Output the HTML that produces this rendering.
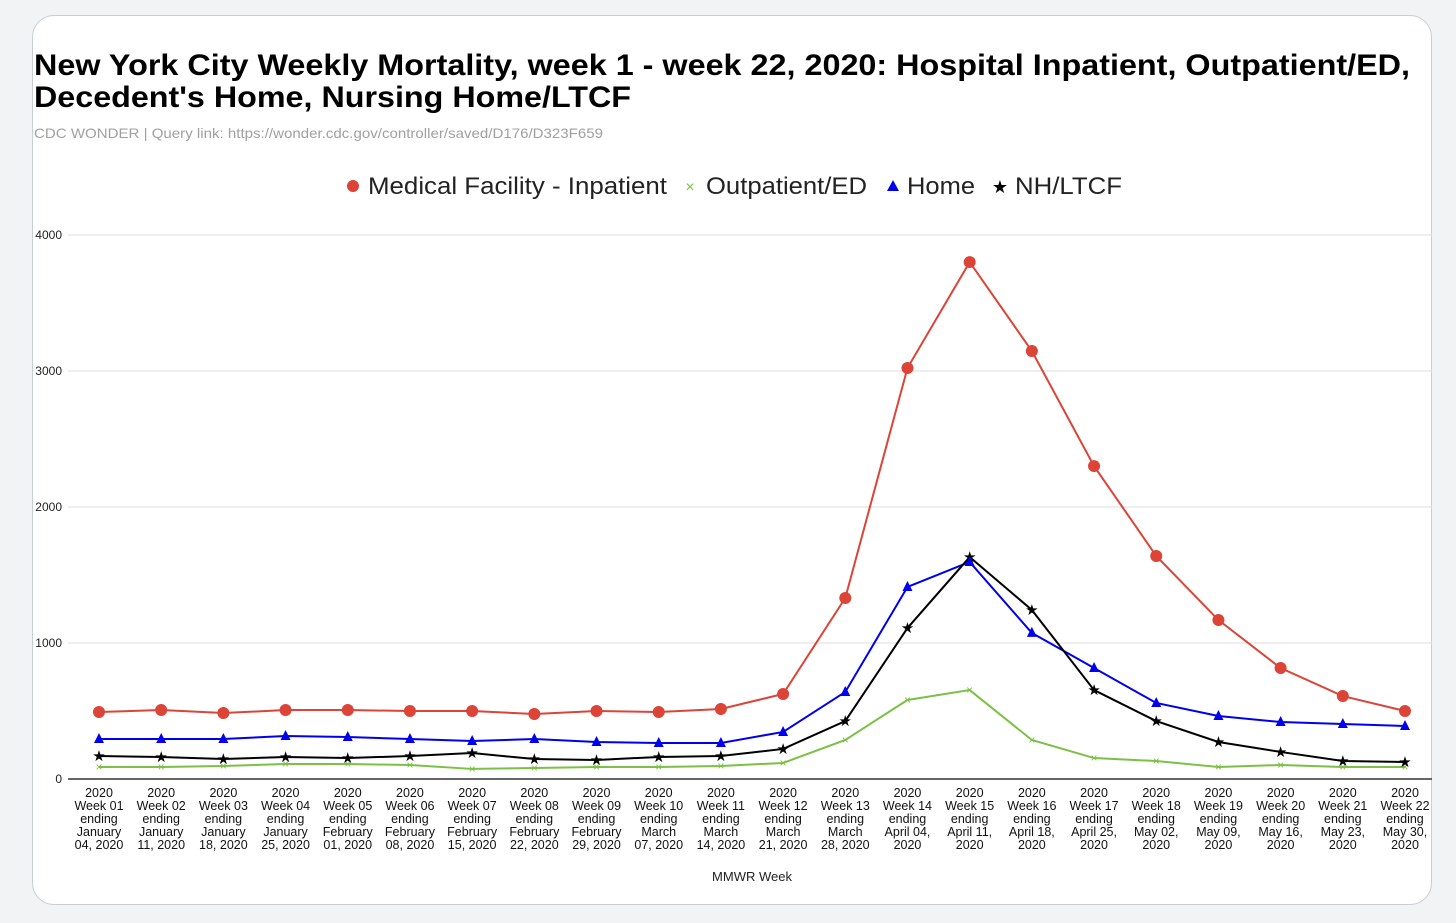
<!DOCTYPE html>
<html><head><meta charset="utf-8"><style>
body{margin:0;width:1456px;height:923px;background:#f2f3f5;font-family:"Liberation Sans",Arial,sans-serif;overflow:hidden}
#card{position:absolute;left:32px;top:15px;width:1398px;height:888px;background:#fff;border:1.5px solid #c9ced6;border-radius:22px}
</style></head><body>
<div id="card"></div>
<svg id="chart" width="1456" height="923" style="position:absolute;left:0;top:0">
<text x="34" y="75" font-size="30" font-weight="bold" fill="#000" textLength="1376" lengthAdjust="spacingAndGlyphs">New York City Weekly Mortality, week 1 - week 22, 2020: Hospital Inpatient, Outpatient/ED,</text>
<text x="34" y="107" font-size="30" font-weight="bold" fill="#000" textLength="597" lengthAdjust="spacingAndGlyphs">Decedent's Home, Nursing Home/LTCF</text>
<text x="34" y="138" font-size="14" fill="#a0a0a0" textLength="569" lengthAdjust="spacingAndGlyphs">CDC WONDER | Query link: https://wonder.cdc.gov/controller/saved/D176/D323F659</text>
<g id="legend">
<circle cx="353" cy="186" r="6" fill="#db4437"/><text x="368" y="194" font-size="24" fill="#222" textLength="299" lengthAdjust="spacingAndGlyphs">Medical Facility - Inpatient</text>
<text x="690" y="192" font-size="16" fill="#7cc045" text-anchor="middle">×</text><text x="706" y="194" font-size="24" fill="#222" textLength="161" lengthAdjust="spacingAndGlyphs">Outpatient/ED</text>
<polygon points="893,180 899,191 887,191" fill="#0000ee"/><text x="907" y="194" font-size="24" fill="#222" textLength="68" lengthAdjust="spacingAndGlyphs">Home</text>
<text x="1000" y="193" font-size="18" fill="#000" text-anchor="middle">★</text><text x="1015" y="194" font-size="24" fill="#222" textLength="107" lengthAdjust="spacingAndGlyphs">NH/LTCF</text>
</g>
<g id="grid"></g><g id="xlabels"></g><g id="series"></g>
<text x="752" y="881" font-size="13" text-anchor="middle" fill="#222">MMWR Week</text>
</svg>
<script>
const weeks=["01","02","03","04","05","06","07","08","09","10","11","12","13","14","15","16","17","18","19","20","21","22"];
const months=["January","January","January","January","February","February","February","February","February","March","March","March","March","April 04,","April 11,","April 18,","April 25,","May 02,","May 09,","May 16,","May 23,","May 30,"];
const days=["04, 2020","11, 2020","18, 2020","25, 2020","01, 2020","08, 2020","15, 2020","22, 2020","29, 2020","07, 2020","14, 2020","21, 2020","28, 2020","2020","2020","2020","2020","2020","2020","2020","2020","2020"];
const yTicks=[0,1000,2000,3000,4000];
const inpatient=[493,507,485,507,507,500,500,478,500,493,515,625,1331,3022,3801,3147,2301,1640,1169,816,610,500];
const home=[294,294,294,316,309,294,279,294,272,265,265,346,640,1412,1596,1074,816,559,463,419,404,390];
const nh=[169,162,147,162,154,169,191,147,140,162,169,221,426,1110,1632,1243,654,426,272,199,132,125];
const outpatient=[88,88,96,110,110,103,74,81,88,88,96,118,287,581,654,287,154,132,88,103,88,88];
const NS="http://www.w3.org/2000/svg";
const x=i=>99+i*(1405-99)/21;
const y=v=>779-v*(779-235)/4000;
function mk(tag,attrs,parent){const e=document.createElementNS(NS,tag);for(const k in attrs)e.setAttribute(k,attrs[k]);parent.appendChild(e);return e;}
const grid=document.getElementById('grid');
yTicks.forEach(t=>{
 const l=mk('line',{x1:68,x2:1432,y1:y(t),y2:y(t),stroke:t===0?'#333':'#ddd','stroke-width':t===0?1.5:1},grid);
 
 
 const tx=mk('text',{x:62,y:y(t)+4,'font-size':12,'text-anchor':'end',fill:'#222'},grid);tx.textContent=t;
 
 
});
const xl=document.getElementById('xlabels');
weeks.forEach((w,i)=>{
 const g=mk('text',{'font-size':12.5,'text-anchor':'middle',fill:'#111'},xl);
 
 
 const lines=["2020","Week "+w,"ending",months[i],days[i]];
 lines.forEach((s,k)=>{const t=mk('tspan',{x:x(i),y:797+k*13},g);t.textContent=s;});
});
const S=document.getElementById('series');
function line(data,color,name){
 const p=mk('polyline',{points:data.map((v,i)=>x(i)+','+y(v)).join(' '),fill:'none',stroke:color,'stroke-width':2},S);
 
 
}
line(inpatient,'#db4437','inpatient');line(home,'#0000ee','home');line(nh,'#000','nh-ltcf');line(outpatient,'#7cc045','outpatient');
outpatient.forEach((v,i)=>{const t=mk('text',{x:x(i),y:y(v)+4,'font-size':12,'text-anchor':'middle',fill:'#7cc045'},S);t.textContent='×';
 
 });
nh.forEach((v,i)=>{const t=mk('text',{x:x(i),y:y(v)+5,'font-size':15,'text-anchor':'middle',fill:'#000'},S);t.textContent='★';
 
 });
home.forEach((v,i)=>{const X=x(i),Y=y(v);const p=mk('polygon',{points:`${X},${Y-6} ${X+5},${Y+4} ${X-5},${Y+4}`,fill:'#0000ee'},S);
 
 });
inpatient.forEach((v,i)=>{const c=mk('circle',{cx:x(i),cy:y(v),r:6,fill:'#db4437'},S);
 
 });
</script>
</body></html>
